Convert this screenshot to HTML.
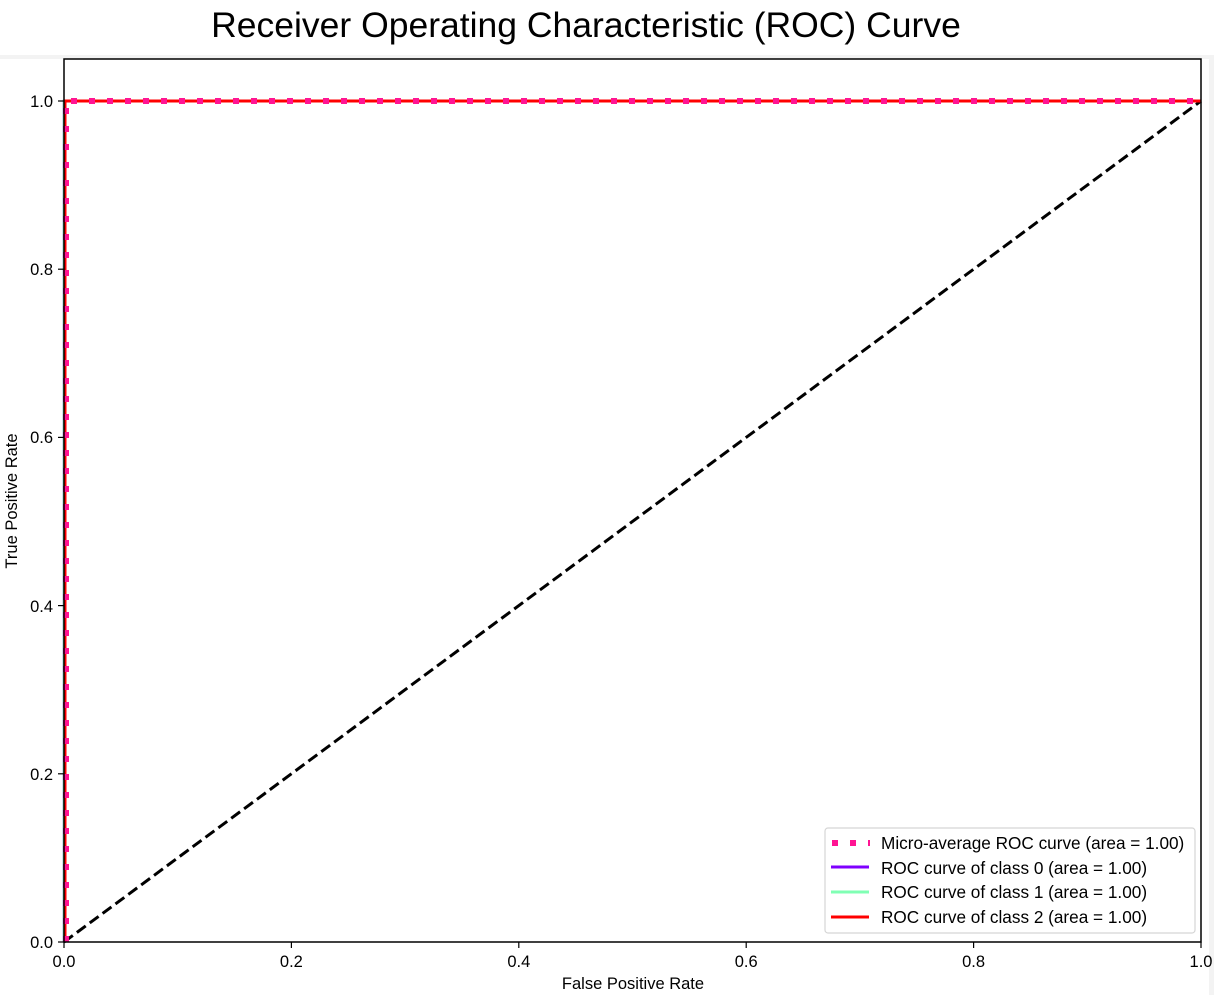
<!DOCTYPE html>
<html><head><meta charset="utf-8"><style>
body{margin:0;background:#fff;}
svg{display:block;font-family:"Liberation Sans",sans-serif;}
</style></head><body>
<svg width="1214" height="995" viewBox="0 0 1214 995">
<rect x="0" y="0" width="1214" height="995" fill="#fff"/>
<rect x="0" y="55" width="1214" height="4" fill="#f3f3f3"/>
<rect x="1209" y="55" width="5" height="940" fill="#f3f3f3"/>
<text x="586" y="37" font-size="35.5" text-anchor="middle" fill="#000">Receiver Operating Characteristic (ROC) Curve</text>
<line x1="64" y1="942" x2="1201" y2="101" stroke="#000" stroke-width="3" stroke-dasharray="11,5"/>
<polyline points="64,942 64,101 1201,101" fill="none" stroke="#7f00ff" stroke-width="2.5"/>
<polyline points="64,942 64,101 1201,101" fill="none" stroke="#80ffb4" stroke-width="2.5"/>
<polyline points="65,942 65,101 1201,101" fill="none" stroke="#ff0000" stroke-width="3"/>
<polyline points="66,942 66,101 1201,101" fill="none" stroke="#ff1493" stroke-width="6" stroke-dasharray="6,12"/>
<rect x="64" y="59" width="1137" height="883" fill="none" stroke="#000" stroke-width="1.5"/>
<g stroke="#000" stroke-width="1.2">
<line x1="64" y1="942" x2="64" y2="948"/><line x1="291.4" y1="942" x2="291.4" y2="948"/>
<line x1="518.8" y1="942" x2="518.8" y2="948"/><line x1="746.2" y1="942" x2="746.2" y2="948"/>
<line x1="973.6" y1="942" x2="973.6" y2="948"/><line x1="1201" y1="942" x2="1201" y2="948"/>
<line x1="58" y1="942" x2="64" y2="942"/><line x1="58" y1="773.8" x2="64" y2="773.8"/>
<line x1="58" y1="605.6" x2="64" y2="605.6"/><line x1="58" y1="437.4" x2="64" y2="437.4"/>
<line x1="58" y1="269.2" x2="64" y2="269.2"/><line x1="58" y1="101" x2="64" y2="101"/>
</g>
<g font-size="16.5" fill="#000" text-anchor="middle">
<text x="64" y="967">0.0</text><text x="291.4" y="967">0.2</text><text x="518.8" y="967">0.4</text>
<text x="746.2" y="967">0.6</text><text x="973.6" y="967">0.8</text><text x="1201" y="967">1.0</text>
</g>
<g font-size="16.5" fill="#000" text-anchor="end">
<text x="53" y="948">0.0</text><text x="53" y="780">0.2</text><text x="53" y="612">0.4</text>
<text x="53" y="443">0.6</text><text x="53" y="275">0.8</text><text x="53" y="107">1.0</text>
</g>
<text x="633" y="989" font-size="16.5" text-anchor="middle">False Positive Rate</text>
<text transform="translate(17,501) rotate(-90)" font-size="16.5" text-anchor="middle">True Positive Rate</text>
<rect x="825" y="828" width="370" height="105" rx="3" fill="#fff" stroke="#d5d5d5" stroke-width="1.2"/>
<line x1="832" y1="843" x2="870" y2="843" stroke="#ff1493" stroke-width="6" stroke-dasharray="6,12"/>
<line x1="831" y1="867" x2="869" y2="867" stroke="#7f00ff" stroke-width="3"/>
<line x1="831" y1="892" x2="869" y2="892" stroke="#80ffb4" stroke-width="3"/>
<line x1="831" y1="917" x2="869" y2="917" stroke="#ff0000" stroke-width="3"/>
<g font-size="17.2" fill="#000">
<text x="881" y="849">Micro-average ROC curve (area = 1.00)</text>
<text x="881" y="874">ROC curve of class 0 (area = 1.00)</text>
<text x="881" y="898">ROC curve of class 1 (area = 1.00)</text>
<text x="881" y="923">ROC curve of class 2 (area = 1.00)</text>
</g>
</svg>
</body></html>
